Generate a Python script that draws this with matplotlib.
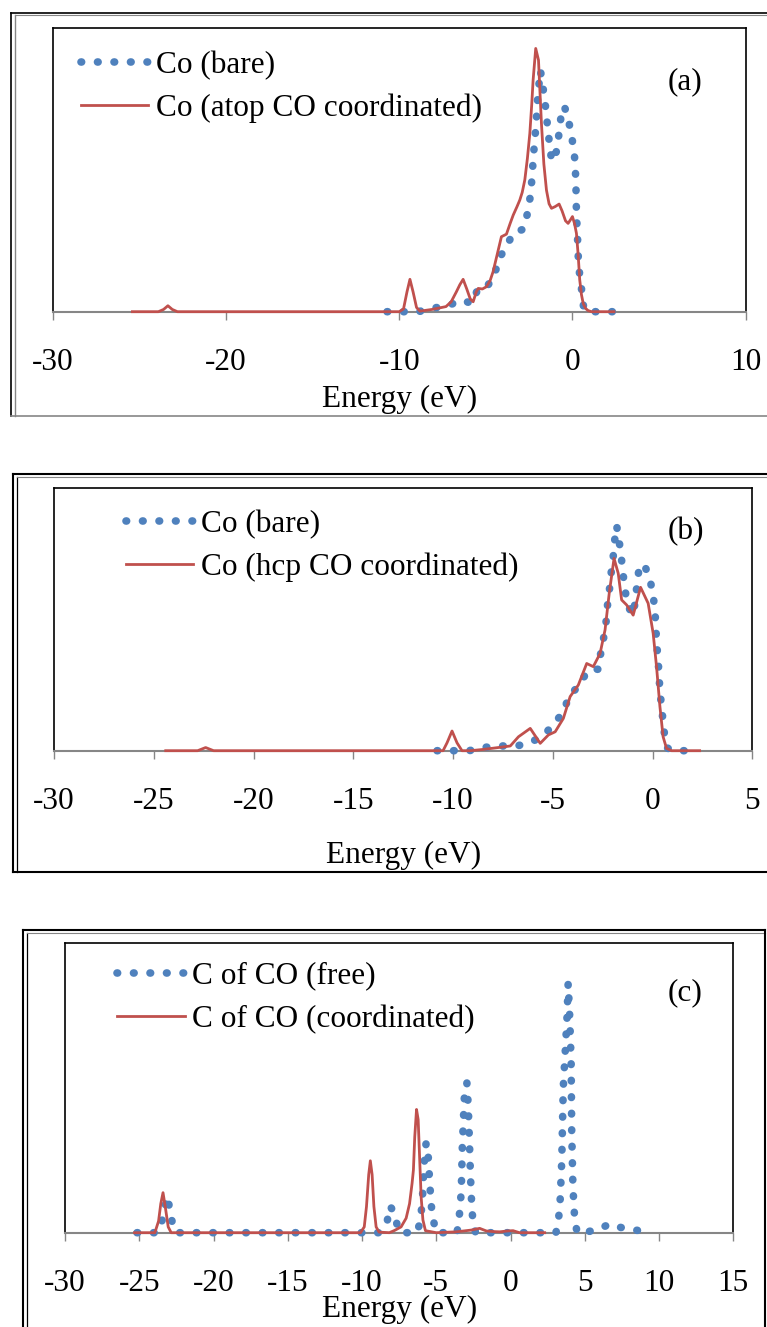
import matplotlib
matplotlib.use("Agg")
import matplotlib.pyplot as plt
from matplotlib.patches import Rectangle

plt.rcParams['font.family'] = ['Liberation Serif', 'DejaVu Serif']
plt.rcParams['axes.unicode_minus'] = False

BLUE = "#4F81BD"
RED = "#C0504D"
GRAY = "#868686"
FS = 22.5

# ---- panel (a): Co bare vs Co (atop CO) ----
a_bare_e = [-10.7, -9.8, -8.9, -8.1, -7.2, -6.4, -5.8, -5.45, -4.95, -4.5, -4.25, -3.8, -3.4,
            -2.85, -2.6, -2.45, -2.35, -2.25, -2.1, -2.0, -1.85, -1.7, -1.55, -1.4, -1.2, -1.05,
            -0.9, -0.75, -0.6, -0.45, -0.35, -0.1, 0.05, 0.15, 0.2, 0.23, 0.3, 0.35, 0.45, 0.57,
            0.65, 0.8, 2.3]
a_bare_y = [0, 0, 0, 0.012, 0.021, 0.041, 0.029, 0.082, 0.086, 0.13, 0.185, 0.232, 0.278,
            0.29, 0.345, 0.40, 0.46, 0.55, 0.66, 0.76, 0.85, 0.79, 0.72, 0.63, 0.53, 0.54,
            0.57, 0.64, 0.72, 0.72, 0.70, 0.64, 0.58, 0.53, 0.45, 0.35, 0.25, 0.17, 0.11, 0.06,
            0.01, 0, 0]
a_co_e = [-25.4, -23.9, -23.6, -23.35, -23.1, -22.8, -10.0, -9.75, -9.55, -9.38, -9.2, -9.0,
          -8.8, -8.1, -7.3, -7.0, -6.7, -6.5, -6.31, -6.1, -5.9, -5.73, -5.55, -5.44, -5.2,
          -4.96, -4.75, -4.58, -4.35, -4.1, -3.81, -3.6, -3.42, -3.2, -3.04, -2.9, -2.75, -2.6,
          -2.46, -2.35, -2.27, -2.12, -1.96, -1.88, -1.79, -1.65, -1.5, -1.35, -1.21, -1.0,
          -0.77, -0.6, -0.4, -0.25, -0.1, 0.0, 0.12, 0.23, 0.33, 0.42, 0.52, 0.62, 0.75, 0.9,
          1.1, 2.4]
a_co_y = [0, 0, 0.008, 0.021, 0.008, 0, 0, 0.01, 0.07, 0.114, 0.07, 0.015,
          0.002, 0.008, 0.018, 0.035, 0.07, 0.095, 0.114, 0.08, 0.045, 0.035, 0.07, 0.082, 0.08,
          0.088, 0.11, 0.141, 0.2, 0.264, 0.273, 0.31, 0.34, 0.37, 0.393, 0.42, 0.464, 0.54,
          0.628, 0.73, 0.816, 0.927, 0.886, 0.78, 0.663, 0.52, 0.428, 0.38, 0.364, 0.37,
          0.379, 0.355, 0.32, 0.311, 0.325, 0.335, 0.31, 0.276, 0.2, 0.112, 0.06, 0.029, 0.012,
          0.004, 0, 0]

# ---- panel (b): Co bare vs Co (hcp CO) ----
b_bare_e = [-10.8, -9.2, -8.4, -7.6, -6.8, -6.2, -5.7, -5.25, -4.9, -4.45, -4.2, -3.65, -3.3,
            -2.95, -2.7, -2.6, -2.45, -2.33, -2.25, -2.15, -2.07, -1.97, -1.9, -1.8, -1.68,
            -1.58, -1.5, -1.38, -1.3, -1.1, -0.97, -0.85, -0.77, -0.67, -0.42, -0.13, 0.03,
            0.12, 0.17, 0.2, 0.28, 0.32, 0.37, 0.45, 0.53, 0.62, 0.75, 1.0, 1.82]
b_bare_y = [0, 0, 0.013, 0.018, 0.018, 0.03, 0.047, 0.076, 0.107, 0.148, 0.208, 0.25, 0.3,
            0.31, 0.31, 0.37, 0.43, 0.49, 0.56, 0.62, 0.68, 0.74, 0.8, 0.857, 0.8,
            0.75, 0.684, 0.62, 0.567, 0.53, 0.516, 0.58, 0.64, 0.697, 0.71, 0.652, 0.593,
            0.532, 0.47, 0.41, 0.35, 0.29, 0.23, 0.168, 0.11, 0.047, 0.01, 0, 0]
b_co_e = [-24.4, -22.8, -22.4, -22.0, -10.5, -10.3, -10.05, -9.8, -9.55, -9.13, -8.47, -7.63,
          -7.13, -6.72, -6.13, -5.63, -5.22, -4.88, -4.47, -4.13, -3.72, -3.3, -2.97, -2.63,
          -2.38, -2.17, -1.93, -1.72, -1.55, -1.3, -0.97, -0.6, -0.22, 0.03, 0.2, 0.37, 0.53,
          0.7, 0.95, 2.36]
b_co_y = [0, 0, 0.012, 0, 0, 0.03, 0.075, 0.03, 0, 0, 0.005, 0.013,
          0.018, 0.053, 0.085, 0.028, 0.06, 0.072, 0.123, 0.206, 0.25, 0.332, 0.32, 0.37,
          0.46, 0.6, 0.732, 0.675, 0.574, 0.555, 0.516, 0.622, 0.561, 0.447, 0.32, 0.168, 0.053,
          0.009, 0, 0]

# ---- panel (c): C of CO free vs coordinated ----
c_free_e = [-25.15, -23.8, -23.5, -23.27, -23.1, -22.9, -22.7, -22.5, -8.9, -8.31, -8.11, -7.77,
            -7.6, -7.4, -6.3, -6.1, -5.95, -5.85, -5.76, -5.68, -5.55, -5.45, -5.35, -5.23,
            -5.0, -3.6, -3.48, -3.37, -3.3, -3.25, -3.18, -3.1, -2.94, -2.85, -2.77, -2.7,
            -2.6, -2.49, -2.35, 3.05, 3.2, 3.35, 3.45, 3.55, 3.7, 3.81, 3.88, 3.98, 4.08,
            4.12, 4.2, 4.33, 4.5, 4.9, 5.86, 6.69, 7.43, 8.26, 9.3]
c_free_y = [0, 0, 0.034, 0.09, 0.125, 0.067, 0.015, 0, 0, 0.038, 0.092, 0.063,
            0.015, 0, 0, 0.035, 0.1, 0.2, 0.28, 0.31, 0.27, 0.18, 0.1, 0.05,
            0, 0, 0.046, 0.095, 0.18, 0.29, 0.38, 0.48, 0.517, 0.44, 0.32, 0.2,
            0.078, 0.023, 0, 0, 0.023, 0.12, 0.25, 0.5, 0.64, 0.75, 0.86, 0.75, 0.59,
            0.35, 0.16, 0.036, 0, 0, 0.011, 0.03, 0.018, 0.011, 0]
c_co_e = [-25.32, -23.95, -23.7, -23.55, -23.4, -23.25, -23.05, -22.85, -10.1, -9.85, -9.7,
          -9.55, -9.44, -9.32, -9.2, -9.05, -8.85, -8.16, -7.8, -7.37, -7.03, -6.8, -6.63,
          -6.54, -6.45, -6.33, -6.22, -6.13, -6.02, -5.9, -5.73, -5.0, -3.66, -2.65, -2.08,
          -1.63, -1.2, -0.73, -0.2, 0.17, 0.6, 2.3]
c_co_y = [0, 0, 0.04, 0.1, 0.138, 0.09, 0.02, 0, 0, 0.02, 0.09,
          0.2, 0.248, 0.2, 0.09, 0.02, 0.002, 0, 0.008, 0.02, 0.05, 0.1, 0.17,
          0.216, 0.33, 0.425, 0.39, 0.27, 0.124, 0.044, 0.007, 0, 0.003, 0.009, 0.015,
          0.006, 0.004, 0.003, 0.006, 0.007, 0, 0]

panels = [
    dict(box=(52.7, 27.7, 745.7, 311.7), xlim=(-30, 10), ticks=[-30, -20, -10, 0, 10],
         bare=(a_bare_e, a_bare_y), co=(a_co_e, a_co_y),
         labels=["Co (bare)", "Co (atop CO coordinated)"], tag="(a)",
         tagpos=(0.912, 0.81), xlab_y=-0.31, leg=(80.7, 50.5), legbox=(59.7, 40.7, 510, 126)),
    dict(box=(54, 488, 752.3, 750.7), xlim=(-30, 5), ticks=[-30, -25, -20, -15, -10, -5, 0, 5],
         bare=(b_bare_e, b_bare_y), co=(b_co_e, b_co_y),
         labels=["Co (bare)", "Co (hcp CO coordinated)"], tag="(b)",
         tagpos=(0.905, 0.834), xlab_y=-0.40, leg=(126, 509.5), legbox=(58.7, 499, 594.4, 587.7)),
    dict(box=(65, 942.7, 733.3, 1232.7), xlim=(-30, 15),
         ticks=[-30, -25, -20, -15, -10, -5, 0, 5, 10, 15],
         bare=(c_free_e, c_free_y), co=(c_co_e, c_co_y),
         labels=["C of CO (free)", "C of CO (coordinated)"], tag="(c)",
         tagpos=(0.928, 0.827), xlab_y=-0.265, leg=(117.4, 961.5), legbox=(68.5, 951.7, 530.8, 1037.7)),
]

W, H = 767, 1327
fig = plt.figure(figsize=(W / 100, H / 100), dpi=100)

# outer frames drawn in pixel space
ov = fig.add_axes([0, 0, 1, 1], zorder=-5)
ov.set_xlim(0, W)
ov.set_ylim(H, 0)
ov.axis("off")
ov.plot([11, 11], [12.7, 416], color="black", lw=1.2)
ov.plot([15.3, 15.3], [14.5, 416], color=GRAY, lw=1.0)
ov.plot([11, W], [12.7, 12.7], color="black", lw=1.2)
ov.plot([15.3, W], [14.8, 14.8], color=GRAY, lw=0.8)
ov.plot([11, W], [416, 416], color=GRAY, lw=1.2)
ov.plot([12.7, 12.7], [474.3, 871.7], color="black", lw=1.5)
ov.plot([16.7, 16.7], [476.5, 871.7], color="black", lw=0.9)
ov.plot([12.7, W], [474.3, 474.3], color="black", lw=1.5)
ov.plot([16.7, W], [476.8, 476.8], color=GRAY, lw=0.8)
ov.plot([12.7, W], [871.7, 871.7], color="black", lw=1.5)
ov.plot([22.7, 22.7], [930, H], color="black", lw=1.5)
ov.plot([26.7, 26.7], [932.5, H], color="black", lw=0.9)
ov.plot([22.7, 765], [930, 930], color="black", lw=1.5)
ov.plot([26.7, 765], [932.6, 932.6], color=GRAY, lw=0.8)
ov.plot([765, 765], [930, H], color="black", lw=1.5)

for p in panels:
    x0, y0, x1, y1 = p["box"]
    ax = fig.add_axes([x0 / W, 1 - y1 / H, (x1 - x0) / W, (y1 - y0) / H])
    ax.set_xlim(*p["xlim"])
    ax.set_ylim(0, 1)
    ax.set_xticks(p["ticks"])
    ax.set_yticks([])
    for s in ["left", "top", "right"]:
        ax.spines[s].set_color("black")
        ax.spines[s].set_linewidth(1.2)
    ax.spines["bottom"].set_color(GRAY)
    ax.spines["bottom"].set_linewidth(1.5)
    ax.tick_params(axis="x", direction="out", length=5.8, width=1.0, color=GRAY,
                   labelsize=FS, pad=20)

    l1, = ax.plot(*p["bare"], color=BLUE, lw=5.5, linestyle=(0, (0.08, 2.08)),
                  dash_capstyle="round", solid_capstyle="round", clip_on=False, zorder=3)
    l2, = ax.plot(*p["co"], color=RED, lw=2.0, clip_on=False, zorder=4)

    ax.set_xlabel("Energy (eV)", fontsize=FS)
    ax.xaxis.set_label_coords(0.5, p["xlab_y"])
    ax.xaxis.label.set_va("center")
    ax.text(*p["tagpos"], p["tag"], transform=ax.transAxes, fontsize=FS,
            ha="center", va="center")

    lx, ly = p["leg"]
    fig.legend([l1, l2], p["labels"], loc="upper left",
               bbox_to_anchor=(lx / W, 1 - ly / H), frameon=False, borderpad=0,
               borderaxespad=0, handlelength=2.15, handletextpad=0.25,
               labelspacing=0.45, fontsize=FS)
    bx0, by0, bx1, by1 = p["legbox"]
    ov.add_patch(Rectangle((bx0, by0), bx1 - bx0, by1 - by0, fill=False,
                           edgecolor="black", lw=1.2))

fig.savefig("out.png", dpi=100)
